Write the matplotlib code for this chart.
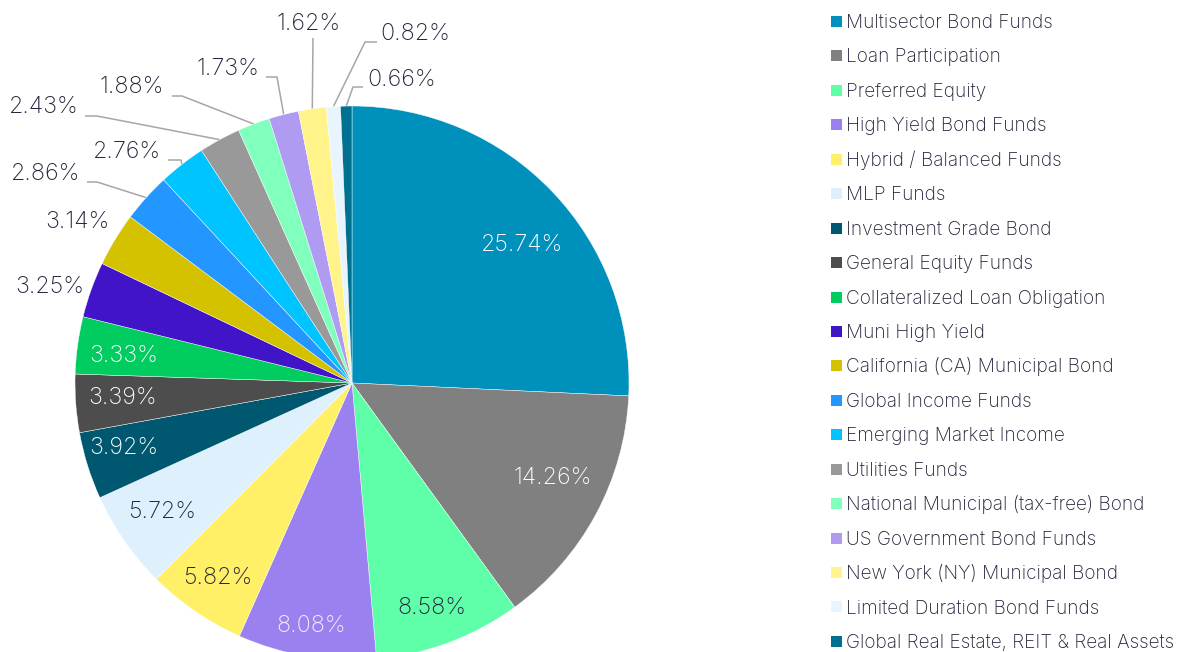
import numpy as np
import matplotlib
matplotlib.use("Agg")
import matplotlib.pyplot as plt
from matplotlib.patches import Rectangle

plt.rcParams['font.family'] = ['Inter', 'DejaVu Sans']

categories = ["Multisector Bond Funds", "Loan Participation", "Preferred Equity",
              "High Yield Bond Funds", "Hybrid / Balanced Funds", "MLP Funds",
              "Investment Grade Bond", "General Equity Funds", "Collateralized Loan Obligation",
              "Muni High Yield", "California (CA) Municipal Bond", "Global Income Funds",
              "Emerging Market Income", "Utilities Funds", "National Municipal (tax-free) Bond",
              "US Government Bond Funds", "New York (NY) Municipal Bond",
              "Limited Duration Bond Funds", "Global Real Estate, REIT & Real Assets"]
shares = [25.74, 14.26, 8.58, 8.08, 5.82, 5.72, 3.92, 3.39, 3.33, 3.25,
          3.14, 2.86, 2.76, 2.43, 1.88, 1.73, 1.62, 0.82, 0.66]
colors = ["#0090bc", "#808080", "#5effa8", "#9b80f0", "#fff067", "#dff0fd",
          "#005870", "#4d4d4d", "#00cc60", "#4114c8", "#d4c200", "#2496ff",
          "#00c4ff", "#999999", "#80ffbd", "#af9bf2", "#fff38a", "#e8f4fe", "#007090"]

TEXT = "#23233b"
W, H = 1181, 652
cx, cy, R = 352, 383, 277
LBL = 16.8


def px(x, y):
    return (x - cx) / R, (cy - y) / R


fig = plt.figure(figsize=(W / 100, H / 100), dpi=100)
ax = fig.add_axes([0, 0, 1, 1])

wedges, _ = ax.pie(shares, colors=colors, startangle=90, counterclock=False,
                   radius=1, wedgeprops=dict(linewidth=0.3, edgecolor="white"))
ax.set_aspect("auto")
ax.set_xlim(-cx / R, (W - cx) / R)
ax.set_ylim(-(H - cy) / R, cy / R)
ax.axis("off")

# inside labels: radial distance, angle nudge and text colour
inside_r = [0.79, 0.80, 0.86, 0.89, 0.855, 0.83, 0.855, 0.83, 0.83]
inside_da = [-4.5, 3, -1, 0, 0, -0.5, -1.5, -0.5, 1]
inside_c = ["white", "white", TEXT, "#f2f2f2", TEXT, TEXT, "white", "white", "white"]
for i, (r, da, c) in enumerate(zip(inside_r, inside_da, inside_c)):
    w = wedges[i]
    ang = np.deg2rad((w.theta1 + w.theta2) / 2 + da)
    ax.text(r * np.cos(ang), r * np.sin(ang), f"{shares[i]:.2f}%", color=c,
            fontsize=LBL, fontweight="light", ha="center", va="center")

# outside labels: text centre, elbow and line start (pixels)
outside = {
    9: ((50, 287), None),
    10: ((77, 222), None),
    11: ((46, 174), [(87, 182), (97, 182)]),
    12: ((127, 152), [(168, 160), (181, 160)]),
    13: ((44, 107), [(85, 116), (97, 116)]),
    14: ((132, 87), [(172, 96), (182, 96)]),
    15: ((228, 69), [(266, 77), (277, 77)]),
    16: ((309, 24), [(313, 38)]),
    17: ((415, 34), [(377, 42), (365, 42)]),
    18: ((402, 80), [(363, 87), (353, 87)]),
}
for i, (pos, leader) in outside.items():
    tx, ty = px(*pos)
    ax.text(tx, ty, f"{shares[i]:.2f}%", color=TEXT, fontsize=LBL,
            fontweight="light", ha="center", va="center")
    if leader:
        w = wedges[i]
        ang = np.deg2rad((w.theta1 + w.theta2) / 2)
        pts = [px(*p) for p in leader] + [(np.cos(ang), np.sin(ang))]
        xs, ys = zip(*pts)
        ax.plot(xs, ys, color="#a6a6a6", lw=1.1, solid_capstyle="butt", zorder=0)

# legend
for i, (name, c) in enumerate(zip(categories, colors)):
    yc = 21.5 + i * 34.44
    x0, y0 = px(831, yc + 5.5)
    ax.add_patch(Rectangle((x0, y0), 11 / R, 11 / R, facecolor=c, edgecolor="none",
                           clip_on=False))
    tx, ty = px(846, yc + 6.5)
    ax.text(tx, ty, name, color=TEXT, fontsize=13.7, fontweight="light",
            ha="left", va="baseline")

fig.savefig("out.png", dpi=100)
